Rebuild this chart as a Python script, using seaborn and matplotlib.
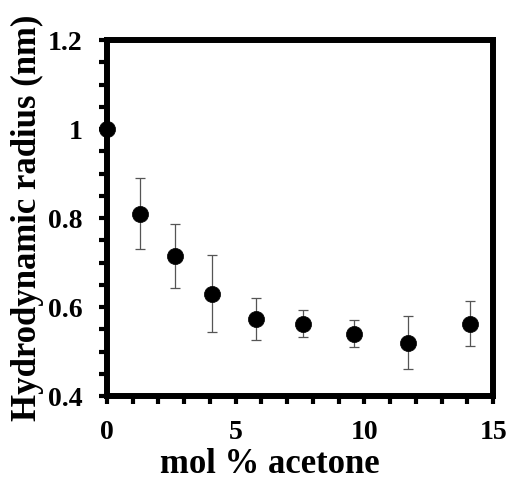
import matplotlib
matplotlib.use("Agg")
import matplotlib.pyplot as plt
import seaborn as sns
import pandas as pd
from matplotlib.ticker import MultipleLocator, FuncFormatter

acetone = [0.0, 1.3, 2.65, 4.1, 5.8, 7.6, 9.6, 11.7, 14.1]
radius = [1.0, 0.81, 0.715, 0.63, 0.573, 0.563, 0.54, 0.52, 0.563]
err = [0.0, 0.08, 0.072, 0.087, 0.048, 0.03, 0.03, 0.06, 0.05]

df = pd.DataFrame({"x": acetone, "y": radius, "e": err})

sns.set_style("white")
plt.rcParams['font.family'] = ['Liberation Serif', 'DejaVu Serif']
plt.rcParams['font.weight'] = 'bold'
plt.rcParams['text.color'] = 'black'
plt.rcParams['axes.labelcolor'] = 'black'
plt.rcParams['xtick.color'] = 'black'
plt.rcParams['ytick.color'] = 'black'

fig = plt.figure(figsize=(5.09, 4.83), dpi=100)
ax = fig.add_axes([0.210, 0.180, 0.759, 0.737])

ax.errorbar(df["x"], df["y"], yerr=df["e"], fmt="none", ecolor="#555555",
            elinewidth=0.9, capsize=3.5, capthick=0.9, zorder=2)
sns.scatterplot(data=df, x="x", y="y", ax=ax, s=135, color="black",
                edgecolor="black", linewidth=0.5, zorder=3, clip_on=False, legend=False)

ax.set_xlim(0, 15)
ax.set_ylim(0.4, 1.2)
ax.xaxis.set_major_locator(MultipleLocator(5))
ax.xaxis.set_minor_locator(MultipleLocator(1))
ax.yaxis.set_major_locator(MultipleLocator(0.2))
ax.yaxis.set_minor_locator(MultipleLocator(0.05))
ax.yaxis.set_major_formatter(FuncFormatter(lambda v, p: "1" if abs(v - 1) < 1e-9 else f"{v:.1f}"))

for s in ax.spines.values():
    s.set_linewidth(4.3)
    s.set_color("black")

ax.tick_params(axis="both", which="both", direction="out", width=3, color="black",
               labelcolor="black", left=True, bottom=True, top=False, right=False)
ax.tick_params(axis="x", which="major", length=5.5, labelsize=20, pad=12)
ax.tick_params(axis="y", which="major", length=5.5, labelsize=20, pad=12)
ax.tick_params(axis="both", which="minor", length=5.5)
for lab in ax.get_xticklabels() + ax.get_yticklabels():
    lab.set_fontweight("bold")

ax.set_xlabel("mol % acetone", fontsize=25, fontweight="bold", color="black")
ax.set_ylabel("Hydrodynamic radius (nm)", fontsize=25, fontweight="bold", color="black")
ax.xaxis.set_label_coords(0.422, -0.145)
ax.yaxis.set_label_coords(-0.163, 0.5)

fig.savefig("out.png", dpi=100)
